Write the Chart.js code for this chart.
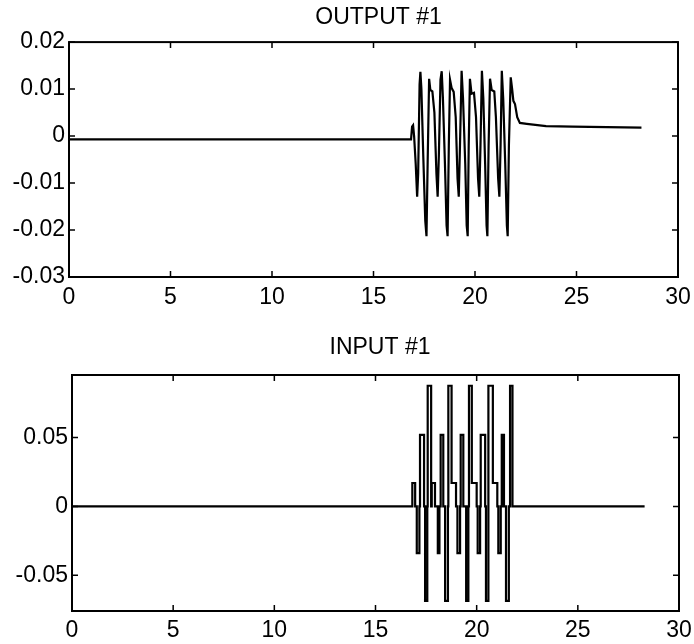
<!DOCTYPE html>
<html>
<head>
<meta charset="utf-8">
<script src="https://cdn.jsdelivr.net/npm/chart.js@4/dist/chart.umd.min.js"></script>
<style>
  html, body { margin: 0; padding: 0; background: #fff; overflow: hidden; }
  #wrap { position: relative; width: 694px; height: 644px; background: #fff; overflow: hidden; }
  canvas { position: absolute; left: 0; display: block; }
  #c1 { top: 0; }
  #c2 { top: 322px; }
</style>
</head>
<body>
<div id="wrap">
  <canvas id="c1" width="760" height="322"></canvas>
  <canvas id="c2" width="760" height="322"></canvas>
</div>
<script>
// ---- Data ----
const xTicks = [0, 5, 10, 15, 20, 25, 30];
const xTickLabels = ["0", "5", "10", "15", "20", "25", "30"];

const outYTicks = [-0.03, -0.02, -0.01, 0, 0.01, 0.02];
const outYTickLabels = ["-0.03", "-0.02", "-0.01", "0", "0.01", "0.02"];

const inYTicks = [-0.05, 0, 0.05];
const inYTickLabels = ["-0.05", "0", "0.05"];

// OUTPUT #1 (time, value)
const outT = [0, 16.85, 16.90, 16.95, 17.00, 17.08, 17.15, 17.20, 17.27, 17.31, 17.36, 17.45, 17.55, 17.61,
  17.67, 17.74, 17.80, 17.90, 18.00, 18.10, 18.16, 18.22, 18.30, 18.36, 18.42, 18.52, 18.60, 18.65,
  18.71, 18.77, 18.85, 18.95, 19.05, 19.14, 19.20, 19.26, 19.34, 19.41, 19.52, 19.59, 19.64,
  19.69, 19.75, 19.83, 19.95, 20.05, 20.15, 20.21, 20.27, 20.34, 20.41, 20.50, 20.57, 20.61,
  20.67, 20.74, 20.82, 20.95, 21.03, 21.14, 21.20, 21.26, 21.32, 21.39, 21.49, 21.57, 21.61,
  21.67, 21.76, 21.83, 21.89, 21.97, 22.08, 22.21, 22.55, 23.50, 24.80, 28.20];
const outY = [-0.0007, -0.0007, 0.0020, 0.0023, 0.0000, -0.0060, -0.0129, -0.0080, 0.0110, 0.0137, 0.0100, -0.0040, -0.0180, -0.0213,
  -0.0050, 0.0122, 0.0098, 0.0095, 0.0050, -0.0080, -0.0129, -0.0040, 0.0120, 0.0138, 0.0080, -0.0060, -0.0190, -0.0213,
  -0.0020, 0.0120, 0.0102, 0.0094, 0.0040, -0.0090, -0.0129, -0.0020, 0.0139, 0.0080, -0.0060, -0.0190, -0.0213,
  -0.0020, 0.0122, 0.0090, 0.0092, 0.0040, -0.0090, -0.0129, -0.0020, 0.0139, 0.0080, -0.0060, -0.0190, -0.0213,
  -0.0020, 0.0122, 0.0098, 0.0095, 0.0040, -0.0090, -0.0129, -0.0020, 0.0139, 0.0080, -0.0060, -0.0190, -0.0213,
  -0.0020, 0.0125, 0.0100, 0.0075, 0.0068, 0.0040, 0.0028, 0.0026, 0.0021, 0.0020, 0.0018];

// INPUT #1 (piecewise constant: value holds from its time until the next time)
const inT = [0, 16.82, 16.96, 17.04, 17.17, 17.20, 17.40, 17.45, 17.56, 17.58, 17.75, 17.78, 17.94,
  18.08, 18.16, 18.22, 18.35, 18.44, 18.58, 18.60, 18.76, 18.98,
  19.05, 19.18, 19.21, 19.34, 19.48, 19.59, 19.62, 19.76, 20.00,
  20.05, 20.17, 20.20, 20.42, 20.46, 20.58, 20.80, 21.02,
  21.07, 21.19, 21.24, 21.35, 21.45, 21.59, 21.65, 21.77, 28.30];
const inY = [0, 0.017, 0, -0.034, 0, 0.052, 0, -0.0686, 0, 0.0877, 0, 0.017, 0,
  -0.034, 0, 0.052, 0, -0.0686, 0, 0.0877, 0.017, 0,
  -0.034, 0, 0.052, 0, -0.0686, 0, 0.0877, 0.017, 0,
  -0.034, 0, 0.052, 0, -0.0686, 0.0877, 0.017, 0,
  -0.034, 0, 0.052, 0, -0.0686, 0, 0.0877, 0, 0];

// ---- Styling / helpers ----
const FONT = { family: "'Liberation Sans', Arial, Helvetica, sans-serif", size: 23, weight: 'normal' };

const framePlugin = {
  id: 'frame',
  afterDatasetsDraw(chart) {
    const { ctx, chartArea: { left, right, top, bottom }, scales: { x, y } } = chart;
    ctx.save();
    ctx.strokeStyle = '#000';
    ctx.lineWidth = 2;
    ctx.strokeRect(left, top, right - left, bottom - top);
    ctx.lineWidth = 1.5;
    ctx.beginPath();
    const L = 6;
    x.ticks.forEach(t => {
      const px = x.getPixelForValue(t.value);
      ctx.moveTo(px, bottom); ctx.lineTo(px, bottom - L);
      ctx.moveTo(px, top); ctx.lineTo(px, top + L);
    });
    y.ticks.forEach(t => {
      const py = y.getPixelForValue(t.value);
      ctx.moveTo(left, py); ctx.lineTo(left + L, py);
      ctx.moveTo(right, py); ctx.lineTo(right - L, py);
    });
    ctx.stroke();
    ctx.restore();
  }
};

function makeChart(canvasId, cfg) {
  const data = cfg.t.map((t, i) => ({ x: t, y: cfg.v[i] }));
  return new Chart(document.getElementById(canvasId), {
    type: 'line',
    data: {
      datasets: [{
        data,
        borderColor: '#000',
        borderWidth: 2.2,
        pointRadius: 0,
        tension: 0,
        fill: false,
        stepped: cfg.stepped || false
      }]
    },
    options: {
      responsive: false,
      animation: false,
      events: [],
      layout: { padding: { left: 0, right: cfg.padRight, top: 0, bottom: 0 } },
      plugins: {
        legend: { display: false },
        tooltip: { enabled: false },
        title: {
          display: true,
          text: cfg.title,
          color: '#000',
          font: FONT,
          fullSize: true,
          padding: { top: cfg.titleTop, bottom: cfg.titleBottom }
        }
      },
      scales: {
        x: {
          type: 'linear',
          position: 'bottom',
          min: 0, max: 30,
          afterBuildTicks: s => { s.ticks = xTicks.map(v => ({ value: v })); },
          afterFit: s => { s.height = cfg.xAxisH; },
          ticks: {
            color: '#000', font: FONT, padding: cfg.xPad, maxRotation: 0, autoSkip: false,
            callback: v => { const i = xTicks.indexOf(v); return i >= 0 ? xTickLabels[i] : ''; }
          },
          grid: { display: false, drawTicks: false },
          border: { display: false }
        },
        y: {
          type: 'linear',
          position: 'left',
          min: cfg.yMin, max: cfg.yMax,
          afterBuildTicks: s => { s.ticks = cfg.yTicks.map(v => ({ value: v })); },
          afterFit: s => { s.width = cfg.leftW; },
          ticks: {
            color: '#000', font: FONT, padding: 4, autoSkip: false,
            callback: v => {
              const i = cfg.yTicks.findIndex(t => Math.abs(t - v) < 1e-9);
              return i >= 0 ? cfg.yTickLabels[i] : '';
            }
          },
          grid: { display: false, drawTicks: false },
          border: { display: false }
        },
        y2: {
          type: 'linear',
          position: 'right',
          min: 0, max: 1,
          afterFit: s => { s.width = cfg.rightW; },
          ticks: { display: false },
          grid: { display: false, drawTicks: false },
          border: { display: false }
        }
      }
    },
    plugins: [framePlugin]
  });
}

makeChart('c1', {
  title: 'OUTPUT #1', t: outT, v: outY,
  yMin: -0.03, yMax: 0.02, yTicks: outYTicks, yTickLabels: outYTickLabels,
  leftW: 69, padRight: 3, rightW: 79,
  titleTop: 3.5, titleBottom: 11,
  xAxisH: 45, xPad: 7
});

makeChart('c2', {
  title: 'INPUT #1', t: inT, v: inY, stepped: true,
  yMin: -0.076, yMax: 0.0955, yTicks: inYTicks, yTickLabels: inYTickLabels,
  leftW: 72, padRight: 0, rightW: 81,
  titleTop: 12, titleBottom: 13.4,
  xAxisH: 33, xPad: 6
});
</script>
</body>
</html>
